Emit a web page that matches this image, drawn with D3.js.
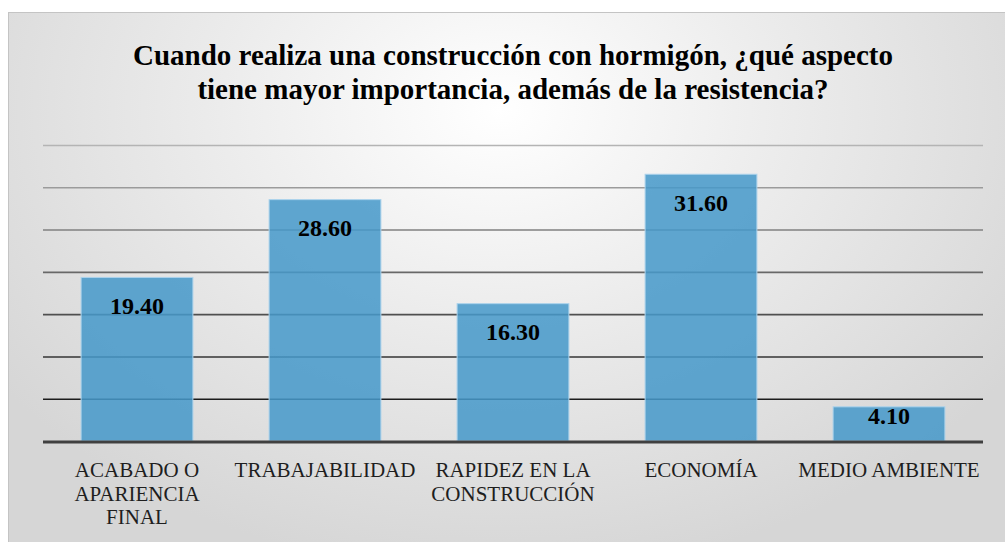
<!DOCTYPE html>
<html>
<head>
<meta charset="utf-8">
<script src="https://cdn.jsdelivr.net/npm/d3@7"></script>
<style>
  html, body { margin: 0; padding: 0; background: #ffffff; }
  svg { display: block; }
</style>
</head>
<body>
<svg id="chart" width="1005" height="542"></svg>
<script>
const titleLines = ["Cuando realiza una construcción con hormigón, ¿qué aspecto", "tiene mayor importancia, además de la resistencia?"];
const categories = ["ACABADO O APARIENCIA FINAL", "TRABAJABILIDAD", "RAPIDEZ EN LA CONSTRUCCIÓN", "ECONOMÍA", "MEDIO AMBIENTE"];
const categoryLabelLines = [["ACABADO O", "APARIENCIA", "FINAL"], ["TRABAJABILIDAD"], ["RAPIDEZ EN LA", "CONSTRUCCIÓN"], ["ECONOMÍA"], ["MEDIO AMBIENTE"]];
const values = [19.40, 28.60, 16.30, 31.60, 4.10];
const gridTicks = [0, 5, 10, 15, 20, 25, 30, 35];

const SERIF = '"Liberation Serif"';
const svg = d3.select("#chart");
const plot = { left: 43, right: 983, top: 145, bottom: 441 };

const defs = svg.append("defs");
const rg = defs.append("radialGradient").attr("id", "bg")
  .attr("gradientUnits", "userSpaceOnUse")
  .attr("cx", 500).attr("cy", 110).attr("r", 620)
  .attr("gradientTransform", "translate(500,110) scale(1,0.75) translate(-500,-110)");
rg.append("stop").attr("offset", "0%").attr("stop-color", "#ffffff");
rg.append("stop").attr("offset", "45%").attr("stop-color", "#ececec");
rg.append("stop").attr("offset", "100%").attr("stop-color", "#d6d6d6");

svg.append("rect").attr("x", 8.5).attr("y", 12.5).attr("width", 1010).attr("height", 540)
  .attr("fill", "url(#bg)").attr("stroke", "#c4c4c4").attr("stroke-width", 1);

// title
svg.append("g").selectAll("text").data(titleLines).join("text")
  .attr("x", 513).attr("y", (d, i) => 65 + i * 34)
  .attr("text-anchor", "middle")
  .style("font-family", SERIF)
  .attr("font-weight", "bold").attr("font-size", 29).attr("fill", "#000")
  .text(d => d);

const x = d3.scaleBand().domain(categories).range([plot.left, plot.right]).paddingInner(0.4).paddingOuter(0.2);
const y = d3.scaleLinear().domain([0, 35]).range([plot.bottom, plot.top]);

const gridColor = d3.scaleLinear().domain([35, 5]).range(["#b4b4b4", "#1c1c1c"]);

// gridlines
const yAxis = d3.axisLeft(y).tickValues(gridTicks.filter(t => t > 0)).tickSize(-(plot.right - plot.left)).tickFormat("");
const gg = svg.append("g").attr("transform", `translate(${plot.left},0)`).call(yAxis);
gg.select(".domain").remove();
gg.selectAll(".tick line").attr("stroke", d => gridColor(d)).attr("stroke-width", 1.6);

// bars
svg.append("g").selectAll("rect").data(values).join("rect")
  .attr("x", (d, i) => x(categories[i]) + 0.5)
  .attr("y", d => y(d) + 0.5)
  .attr("width", x.bandwidth() - 1)
  .attr("height", d => plot.bottom - y(d) - 0.5)
  .attr("fill", "rgb(70,152,201)").attr("fill-opacity", 0.86)
  .attr("stroke", "#acd3ec").attr("stroke-width", 1);

// baseline
svg.append("line").attr("x1", plot.left).attr("x2", plot.right)
  .attr("y1", plot.bottom + 1).attr("y2", plot.bottom + 1)
  .attr("stroke", "#404040").attr("stroke-width", 3);

// value labels
svg.append("g").selectAll("text").data(values).join("text")
  .attr("x", (d, i) => x(categories[i]) + x.bandwidth() / 2)
  .attr("y", d => Math.min(y(d) + 37, plot.bottom - 17))
  .attr("text-anchor", "middle")
  .style("font-family", SERIF)
  .attr("font-weight", "bold").attr("font-size", 24).attr("fill", "#000")
  .text(d => d.toFixed(2));

// category labels
const catG = svg.append("g").selectAll("text").data(categories).join("text")
  .attr("text-anchor", "middle")
  .style("font-family", SERIF).attr("font-size", 21).attr("fill", "#1e1e1e");
catG.each(function(c, i) {
  const cx = x(c) + x.bandwidth() / 2;
  d3.select(this).selectAll("tspan").data(categoryLabelLines[i]).join("tspan")
    .attr("x", cx).attr("y", (d, j) => 477 + j * 23.5).text(d => d);
});
</script>
</body>
</html>
